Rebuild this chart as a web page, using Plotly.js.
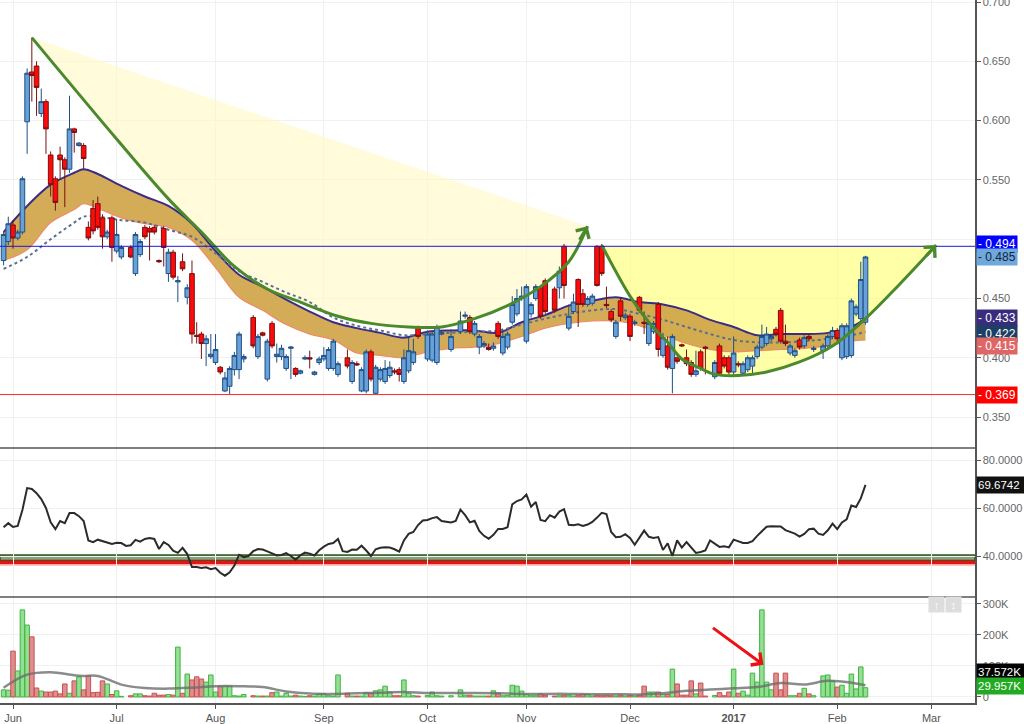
<!DOCTYPE html>
<html><head><meta charset="utf-8">
<script src="https://cdn.plot.ly/plotly-3.0.1.min.js"></script>
<style>html,body{margin:0;padding:0;background:#fff}#chart{width:1024px;height:724px}</style>
</head><body><div id="chart"></div>
<script>
// ---------- data ----------
const dates = [
'2016-05-30','2016-05-31','2016-06-01','2016-06-02','2016-06-03','2016-06-06','2016-06-07','2016-06-08','2016-06-09','2016-06-10',
'2016-06-13','2016-06-14','2016-06-15','2016-06-16','2016-06-17','2016-06-20','2016-06-21','2016-06-22','2016-06-23','2016-06-24',
'2016-06-27','2016-06-28','2016-06-29','2016-06-30','2016-07-01','2016-07-04','2016-07-05','2016-07-06','2016-07-07','2016-07-08',
'2016-07-11','2016-07-12','2016-07-13','2016-07-14','2016-07-15','2016-07-18','2016-07-19','2016-07-20','2016-07-21','2016-07-22',
'2016-07-25','2016-07-26','2016-07-27','2016-07-28','2016-07-29','2016-08-01','2016-08-02','2016-08-03','2016-08-04','2016-08-05',
'2016-08-08','2016-08-09','2016-08-10','2016-08-11','2016-08-12','2016-08-15','2016-08-16','2016-08-17','2016-08-18','2016-08-19',
'2016-08-22','2016-08-23','2016-08-24','2016-08-25','2016-08-26','2016-08-29','2016-08-30','2016-08-31','2016-09-01','2016-09-02',
'2016-09-05','2016-09-06','2016-09-07','2016-09-08','2016-09-09','2016-09-12','2016-09-13','2016-09-14','2016-09-15','2016-09-16',
'2016-09-19','2016-09-20','2016-09-21','2016-09-22','2016-09-23','2016-09-26','2016-09-27','2016-09-28','2016-09-29','2016-09-30',
'2016-10-03','2016-10-04','2016-10-05','2016-10-06','2016-10-07','2016-10-10','2016-10-11','2016-10-12','2016-10-13','2016-10-14',
'2016-10-17','2016-10-18','2016-10-19','2016-10-20','2016-10-21','2016-10-24','2016-10-25','2016-10-26','2016-10-27','2016-10-28',
'2016-10-31','2016-11-01','2016-11-02','2016-11-03','2016-11-04','2016-11-07','2016-11-08','2016-11-09','2016-11-10','2016-11-11',
'2016-11-14','2016-11-15','2016-11-16','2016-11-17','2016-11-18','2016-11-21','2016-11-22','2016-11-23','2016-11-24','2016-11-25',
'2016-11-28','2016-11-29','2016-11-30','2016-12-01','2016-12-02','2016-12-05','2016-12-06','2016-12-07','2016-12-08','2016-12-09',
'2016-12-12','2016-12-13','2016-12-14','2016-12-15','2016-12-16','2016-12-19','2016-12-20','2016-12-21','2016-12-22','2016-12-23',
'2016-12-26','2016-12-27','2016-12-28','2016-12-29','2016-12-30','2017-01-02','2017-01-03','2017-01-04','2017-01-05','2017-01-06',
'2017-01-09','2017-01-10','2017-01-11','2017-01-12','2017-01-13','2017-01-16','2017-01-17','2017-01-18','2017-01-19','2017-01-20',
'2017-01-23','2017-01-24','2017-01-25','2017-01-26','2017-01-27','2017-01-30','2017-01-31','2017-02-01','2017-02-02','2017-02-03',
'2017-02-06','2017-02-07','2017-02-08','2017-02-09'];

const open = [
.482,.498,.512,.501,.506,.599,.641,.646,.606,.616,
.571,.551,.571,.567,.559,.593,.579,.579,.510,.526,
.530,.518,.502,.518,.490,.485,null,.493,.471,.487,
.510,.509,.510,.482,.509,.471,.489,.464,.481,.451,
.471,.419,.420,.412,.401,.396,.392,.372,.376,.390,
.390,.399,null,.434,.401,.421,.382,.429,.401,.401,
.391,.408,.391,.387,.399,.400,.386,.396,.399,.391,
.391,.386,null,.400,.380,.395,.372,.372,.405,.370,
.382,.380,.385,.389,.390,.380,.389,.396,.425,null,
.399,.398,.396,.420,null,.407,null,.422,.435,.434,
.420,.409,.410,.409,.408,.429,.404,.409,.430,.437,
.450,.414,.437,.450,.459,.465,null,.458,.459,.494,
.425,.439,.466,.454,.445,.446,.494,.494,.445,.439,
.418,.448,.434,.435,.429,.451,.430,.412,.422,.445,
.402,.410,.391,.400,.411,.400,.396,.386,.405,.409,
null,.384,.410,.400,.400,.388,.395,.387,.390,.393,
.401,.409,.412,.416,.424,.440,.414,.404,.402,.415,
.410,.418,.407,null,.406,.410,.418,.423,.400,.401,
.402,.437,.433,.430];

const high = [
.506,.519,.516,.508,.553,.644,.670,.650,.627,.618,
.574,.553,.578,.569,.621,.594,.582,.581,.515,.533,
.536,.521,.508,.520,.517,.495,null,.495,.506,.500,
.512,.511,.512,.483,.511,.492,.491,.469,.488,.462,
.482,.430,.422,.419,.420,.420,.393,.388,.393,.405,
.422,.403,null,.436,.420,.422,.416,.431,.412,.411,
.403,.410,.392,.390,.402,.406,.389,.401,.409,.409,
.416,.397,null,.407,.398,.397,.392,.407,.407,.394,
.392,.398,.397,.391,.392,.407,.418,.416,.427,null,
.423,.422,.428,.423,null,.424,null,.439,.439,.436,
.431,.420,.414,.412,.413,.431,.424,.422,.452,.458,
.460,.462,.447,.462,.461,.467,null,.460,.477,.496,
.445,.454,.467,.458,.452,.454,.495,.496,.460,.441,
.432,.451,.438,.437,.432,.452,.439,.431,.431,.447,
.421,.418,.420,.401,.412,.407,.398,.406,.407,.410,
null,.398,.412,.402,.402,.418,.397,.397,.402,.402,
.411,.428,.426,.420,.426,.442,.428,.412,.408,.417,
.419,.420,.410,null,.412,.420,.426,.425,.429,.429,
.450,.445,.481,.486];

const low = [
.478,.495,.492,.499,.504,.572,.616,.604,.603,.572,
.536,.524,.551,.527,.556,.573,.578,.559,.499,.504,
.508,.492,.500,.481,.488,.483,null,.484,.469,.485,
.500,.482,.504,.480,.477,.464,.466,.447,.473,.445,
.412,.412,.399,.393,.399,.394,.386,.371,.369,.385,
.382,.396,null,.408,.399,.418,.380,.408,.396,.398,
.389,.382,.384,.386,.398,.391,.385,.394,.397,.389,
.389,.384,null,.391,.378,.393,.371,.370,.380,.369,
.380,.378,.383,.386,.380,.378,.387,.394,.416,null,
.397,.396,.394,.419,null,.405,null,.420,.433,.420,
.418,.403,.408,.406,.406,.416,.402,.407,.428,.435,
.448,.412,.434,.448,.433,.437,null,.438,.450,.450,
.423,.437,.426,.443,.443,.444,.460,.469,.442,.430,
.416,.431,.432,.414,.427,.438,.420,.410,.420,.401,
.400,.390,.370,.395,.409,.393,.384,.384,.389,.386,
null,.382,.385,.391,.386,.386,.392,.385,.388,.386,
.399,.407,.410,.414,.418,.412,.410,.402,.400,.407,
.408,.414,.405,null,.399,.408,.416,.414,.398,.399,
.400,.435,.431,.428];

const close = [
.504,.513,.501,.506,.551,.640,.638,.628,.616,.593,
.546,.531,.567,.559,.593,.590,.581,.568,.501,.507,
.510,.502,.506,.493,.504,.493,null,.485,.504,.498,
.502,.506,.506,.481,.493,.489,.468,.465,.475,.459,
.420,.418,.412,.416,.403,.407,.388,.383,.391,.402,
.420,.401,null,.410,.418,.419,.414,.410,.403,.408,
.401,.409,.386,.389,.400,.399,.388,.399,.402,.407,
.414,.395,null,.393,.396,.394,.390,.405,.382,.392,
.390,.391,.392,.388,.386,.400,.406,.405,.418,null,
.420,.420,.426,.421,null,.418,null,.431,.436,.422,
.429,.418,.412,.407,.410,.418,.418,.420,.445,.450,
.452,.460,.445,.460,.435,.439,null,.440,.473,.461,
.435,.447,.445,.445,.450,.452,.461,.471,.444,.432,
.430,.435,.436,.418,.430,.440,.429,.429,.429,.407,
.417,.392,.418,.397,.410,.395,.386,.389,.391,.408,
null,.396,.387,.393,.388,.404,.394,.395,.400,.400,
.409,.418,.420,.418,.420,.414,.412,.410,.406,.409,
.417,.416,.408,null,.410,.418,.423,.416,.427,.427,
.448,.443,.466,.485];

const volume = [
23000,22000,148000,84000,281000,232000,194000,29000,19000,16000,
16000,19000,10000,42000,12000,52000,65000,23000,68000,14000,
15000,52000,42000,8000,20000,2000,null,4000,10000,10000,
4000,3000,12000,6000,6000,8000,6000,161000,12000,74000,
55000,65000,58000,48000,71000,16000,35000,35000,35000,4000,
3000,8000,null,4000,3000,3000,3000,14000,16000,3000,
12000,3000,6000,3000,2000,4000,3000,10000,10000,4000,
3000,71000,null,12000,3000,3000,3000,14000,12000,20000,
23000,35000,16000,4000,4000,55000,12000,4000,3000,null,
5000,16000,4000,3000,null,4000,null,23000,6000,6000,
3000,3000,3000,3000,20000,12000,4000,5000,38000,35000,
19000,8000,4000,4000,10000,6000,null,3000,4000,6000,
6000,3000,6000,8000,8000,3000,6000,4000,6000,4000,
3000,6000,3000,6000,3000,6000,35000,16000,16000,16000,
8000,8000,90000,42000,6000,6000,52000,10000,45000,3000,
null,5000,14000,4000,16000,90000,12000,19000,6000,77000,
48000,281000,48000,23000,77000,23000,77000,4000,4000,12000,
28000,10000,4000,null,68000,71000,52000,32000,38000,12000,
74000,26000,97000,29957];

const rsi = [
52.0,53.7,52.1,52.5,59.2,68.3,67.9,66.2,63.7,60.0,
54.0,51.2,54.6,53.7,57.9,57.9,56.6,54.6,46.5,45.8,
46.8,46.3,45.8,45.0,45.5,45.4,44.2,44.5,46.7,46.0,
47.1,47.5,47.1,42.9,45.8,44.6,42.2,41.3,43.4,40.8,
35.4,35.4,35.0,35.3,34.5,35.0,33.0,31.8,33.2,36.0,
40.5,39.5,40.0,42.0,42.9,42.7,41.9,41.0,40.2,40.4,
41.2,40.0,38.4,40.3,41.4,41.0,40.2,42.4,43.9,45.0,
45.4,47.1,42.0,41.7,42.7,42.6,44.3,42.3,40.0,42.8,
43.4,43.6,43.5,42.8,41.8,46.5,49.2,50.0,52.9,54.8,
55.0,55.8,56.2,54.6,54.4,54.0,54.6,59.3,57.0,54.0,
54.7,50.5,48.4,47.2,48.8,51.3,51.3,52.0,61.5,62.9,
63.6,65.6,60.5,62.5,55.0,54.5,57.0,56.0,58.5,59.5,
53.0,52.8,53.2,52.5,53.1,54.2,56.0,58.0,57.5,50.0,
47.8,48.0,49.1,47.5,44.7,47.9,50.6,48.0,47.5,47.9,
42.5,45.3,40.0,46.5,43.5,45.8,43.3,41.3,41.7,42.3,
46.5,45.3,43.8,44.1,43.6,46.8,46.0,45.4,45.4,46.2,
48.4,50.2,52.2,52.4,52.2,52.3,50.8,50.0,49.3,48.1,
49.2,51.2,51.4,49.3,48.8,50.7,53.5,51.2,54.0,55.3,
61.0,60.4,64.0,69.6742];

// moving averages, sampled weekly
const maDates = ['2016-05-30','2016-06-06','2016-06-13','2016-06-20','2016-06-22','2016-06-27','2016-07-04','2016-07-11','2016-07-18','2016-07-25',
'2016-08-01','2016-08-08','2016-08-15','2016-08-22','2016-08-29','2016-09-05','2016-09-12','2016-09-19','2016-09-26','2016-10-03',
'2016-10-10','2016-10-17','2016-10-24','2016-10-31','2016-11-07','2016-11-14','2016-11-21','2016-11-28','2016-12-05','2016-12-12',
'2016-12-19','2016-12-26','2017-01-02','2017-01-09','2017-01-16','2017-01-23','2017-01-30','2017-02-06','2017-02-09'];
const bandUpper = [.506,.528,.546,.556,.559,.555,.545,.536,.528,.513,.490,.470,.460,.449,.439,.430,.425,.421,.417,.422,
.423,.423,.421,.430,.436,.444,.448,.451,.447,.445,.440,.432,.426,.419,.420,.420,.421,.426,.433];
const bandLower = [.482,.491,.514,.525,.530,.526,.518,.513,.510,.499,.476,.451,.440,.428,.420,.415,.404,.402,.400,.405,
.408,.409,.412,.418,.425,.429,.431,.431,.427,.419,.412,.407,.405,.406,.407,.408,.410,.414,.415];
const slowMA = [.475,.485,.500,.514,.519,.519,.516,.514,.508,.502,.488,.473,.464,.455,.447,.434,.427,.423,.419,.420,
.421,.422,.423,.428,.433,.437,.440,.441,.437,.432,.426,.420,.415,.413,.413,.414,.416,.419,.422];
const volMA = [30000,72000,80000,70000,68000,68000,40000,29000,27000,30000,35000,35000,32000,18000,11000,10000,12000,14000,16000,13000,
13000,13000,12000,10000,10000,10000,9000,9000,8000,12000,20000,24000,28000,32000,45000,40000,52000,46000,37572];

// cup drawings
const cup1Dates = ['2016-06-07','2016-07-01','2016-07-18','2016-07-27','2016-08-05','2016-08-16','2016-08-25','2016-09-06','2016-09-15','2016-09-27','2016-10-06','2016-10-17','2016-10-26','2016-11-04','2016-11-14','2016-11-18'];
const cup1Values = [.670,.5845,.534,.506,.477,.458,.447,.435,.429,.426,.426,.433,.444,.460,.481,.511];
const cup2Dates = ['2016-11-23','2016-12-01','2016-12-07','2016-12-13','2016-12-16','2016-12-22','2016-12-27','2017-01-03','2017-01-11','2017-01-20','2017-01-31','2017-02-09','2017-02-20','2017-03-02'];
const cup2Values = [.495,.452,.430,.413,.399,.391,.386,.385,.388,.3965,.410,.433,.461,.495];

const resistance = 0.494, support = 0.369;
const rsiZoneHigh = 40.4, rsiZoneLow = 38.1, rsiRedHigh = 38.0, rsiRedLow = 36.6;

const priceTicks = [0.35,0.40,0.45,0.50,0.55,0.60,0.65,0.70];
const priceTickText = ['0.350','0.400','0.450','','0.550','0.600','0.650','0.700'];
const monthTicks = ['2016-06-01','2016-07-01','2016-08-01','2016-09-01','2016-10-03','2016-11-01','2016-12-01','2017-01-02','2017-02-01','2017-03-01'];
const monthLabels = ['Jun','Jul','Aug','Sep','Oct','Nov','Dec','<b>2017</b>','Feb','Mar'];

// ---------- build ----------
const noon = d => d + ' 12:00';
const X = dates.map(noon);
const FONT = 'Liberation Sans, Arial, sans-serif';
const GREEN = '#4a8a2c';

const volColors = close.map((c,i) => (c!==null && c >= open[i]) ? 'rgba(120,215,120,0.8)' : 'rgba(215,115,115,0.8)');
const volLines = close.map((c,i) => (c!==null && c >= open[i]) ? '#40b440' : '#c85050');

const traces = [
  {x:[noon(cup1Dates[0]), noon(cup1Dates[cup1Dates.length-1])], y:[cup1Values[0], cup1Values[cup1Values.length-1]],
   mode:'lines', line:{width:0}, hoverinfo:'skip', xaxis:'x', yaxis:'y'},
  {x:cup1Dates.map(noon), y:cup1Values, mode:'lines', line:{width:0, shape:'spline'}, fill:'tonexty',
   fillcolor:'rgba(255,248,190,0.55)', hoverinfo:'skip', xaxis:'x', yaxis:'y'},
  {x:[noon(cup2Dates[0]), noon(cup2Dates[cup2Dates.length-1])], y:[resistance, resistance],
   mode:'lines', line:{width:0}, hoverinfo:'skip', xaxis:'x', yaxis:'y'},
  {x:cup2Dates.map(noon), y:cup2Values, mode:'lines', line:{width:0, shape:'spline'}, fill:'tonexty',
   fillcolor:'rgba(255,255,110,0.6)', hoverinfo:'skip', xaxis:'x', yaxis:'y'},
  {x:maDates.map(noon), y:bandLower, mode:'lines', line:{color:'#f08a66', width:1.2, shape:'spline'}, hoverinfo:'skip', xaxis:'x', yaxis:'y'},
  {x:maDates.map(noon), y:bandUpper, mode:'lines', line:{color:'#3b2c85', width:2, shape:'spline'}, fill:'tonexty',
   fillcolor:'rgba(207,163,70,0.9)', hoverinfo:'skip', xaxis:'x', yaxis:'y'},
  {x:maDates.map(noon), y:slowMA, mode:'lines', line:{color:'#5a7090', width:2, dash:'dot', shape:'spline'}, hoverinfo:'skip', xaxis:'x', yaxis:'y'},
  // candles and cup outlines sit on an overlaid copy of the price axis so they draw above the fills
  {type:'candlestick', x:X, open:open, high:high, low:low, close:close, xaxis:'x', yaxis:'y4',
   increasing:{line:{color:'#1f4f85', width:1}, fillcolor:'#68a0d8'},
   decreasing:{line:{color:'#7a1010', width:1}, fillcolor:'#ff0a0a'}, whiskerwidth:0, hoverinfo:'skip'},
  {x:cup1Dates.map(noon), y:cup1Values, mode:'lines', line:{color:GREEN, width:3, shape:'spline'}, hoverinfo:'skip', xaxis:'x', yaxis:'y4'},
  {x:cup2Dates.map(noon), y:cup2Values, mode:'lines', line:{color:GREEN, width:3, shape:'spline'}, hoverinfo:'skip', xaxis:'x', yaxis:'y4'},
  {x:X, y:rsi, mode:'lines', line:{color:'#2b2b2b', width:2}, hoverinfo:'skip', xaxis:'x', yaxis:'y2'},
  {type:'bar', x:X, y:volume, marker:{color:volColors, line:{color:volLines, width:1}}, hoverinfo:'skip', xaxis:'x', yaxis:'y3'},
  {x:maDates.map(noon), y:volMA, mode:'lines', line:{color:'rgba(110,110,110,0.8)', width:2.5, shape:'spline'}, hoverinfo:'skip', xaxis:'x', yaxis:'y3'}
];

const axisCommon = {side:'right', showline:true, linecolor:'#555', linewidth:1.5, ticks:'outside', ticklen:4, tickcolor:'#555',
  showgrid:true, gridcolor:'#f1f1f1', zeroline:false, tickfont:{size:11, color:'#666', family:FONT}, fixedrange:true,
  ticklabeloverflow:'allow'};

function tag(yref, y, text, bg, fc, yshift, w, fs){
  return {xref:'paper', x:1, xanchor:'left', xshift:1, yref:yref, y:y, yanchor:'middle', text:text, showarrow:false,
    bgcolor:bg, font:{color:fc, size:fs||12, family:FONT}, borderpad:1, yshift:yshift||0, width:w||38, height:14, align:'left'};
}
const lastIdx = close.length - 1;
const annotations = [
  tag('y', resistance, '- ' + resistance.toFixed(3), '#0000ff', '#ffffff', 2),
  tag('y', close[lastIdx], '- ' + close[lastIdx].toFixed(3), '#6fa8dc', '#14243c', 0),
  tag('y', bandUpper[bandUpper.length-1], '- ' + bandUpper[bandUpper.length-1].toFixed(3), '#3a2c7c', '#ffffff', 1),
  tag('y', slowMA[slowMA.length-1], '- ' + slowMA[slowMA.length-1].toFixed(3), '#1c3f63', '#ffffff', -2),
  tag('y', bandLower[bandLower.length-1], '- ' + bandLower[bandLower.length-1].toFixed(3), '#e06666', '#ffffff', -6),
  tag('y', support, '- ' + support.toFixed(3), '#ff0000', '#ffffff', 0),
  tag('y2', rsi[lastIdx], rsi[lastIdx].toFixed(4), '#111111', '#ffffff', 0, 46, 11.5),
  tag('y3', volMA[volMA.length-1], (volMA[volMA.length-1]/1000).toFixed(3) + 'K', '#000000', '#ffffff', 13, 46, 11.5),
  tag('y3', volume[lastIdx], (volume[lastIdx]/1000).toFixed(3) + 'K', '#22aa22', '#ffffff', 2, 46, 11.5),
  {x:noon(cup1Dates[cup1Dates.length-1]), y:cup1Values[cup1Values.length-1], xref:'x', yref:'y', showarrow:true, text:'',
   ax:-9, ay:15, arrowhead:4, arrowsize:1, arrowwidth:3, arrowcolor:GREEN, standoff:0},
  {x:noon(cup2Dates[cup2Dates.length-1]), y:cup2Values[cup2Values.length-1], xref:'x', yref:'y', showarrow:true, text:'',
   ax:-11, ay:12, arrowhead:4, arrowsize:1, arrowwidth:3, arrowcolor:GREEN, standoff:0},
  {x:'2017-01-10 20:00', y:104000, xref:'x', yref:'y3', showarrow:true, text:'', ax:-52, ay:-38,
   arrowhead:4, arrowsize:1, arrowwidth:3, arrowcolor:'#ee1111', standoff:0},
  {xref:'paper', yref:'paper', x:0.969, y:0.128, text:'↑', showarrow:false, bgcolor:'#dddddd', font:{color:'#ffffff', size:11}, width:13, height:13},
  {xref:'paper', yref:'paper', x:0.987, y:0.128, text:'↕', showarrow:false, bgcolor:'#dddddd', font:{color:'#ffffff', size:11}, width:13, height:13}
];

const shapes = [
  {type:'line', xref:'paper', x0:0, x1:1, yref:'y', y0:resistance, y1:resistance, line:{color:'#1a1ad8', width:1}},
  {type:'line', xref:'paper', x0:0, x1:1, yref:'y', y0:support, y1:support, line:{color:'#ff2a2a', width:1}},
  {type:'rect', xref:'paper', x0:0, x1:1, yref:'y2', y0:rsiZoneLow, y1:rsiZoneHigh, fillcolor:'#8e9f7e', line:{color:'#2d5a1e', width:1.5}, layer:'below'},
  {type:'rect', xref:'paper', x0:0, x1:1, yref:'y2', y0:rsiRedLow, y1:rsiRedHigh, fillcolor:'#e81212', line:{width:0}, layer:'below'},
  {type:'rect', xref:'paper', x0:0, x1:1, yref:'y2', y0:rsiRedLow-0.8, y1:rsiRedLow, fillcolor:'rgba(255,120,120,0.45)', line:{width:0}, layer:'below'},
  {type:'line', xref:'paper', x0:0, x1:1, yref:'paper', y0:0.3627, y1:0.3627, line:{color:'#555', width:1.5}},
  {type:'line', xref:'paper', x0:0, x1:1, yref:'paper', y0:0.1508, y1:0.1508, line:{color:'#555', width:1.5}}
];

const priceRange = [0.3239, 0.7017];
const layout = {
  width:1024, height:724, margin:{l:0, r:49, t:0, b:21}, paper_bgcolor:'#fff', plot_bgcolor:'#fff',
  showlegend:false, font:{family:FONT, size:11, color:'#555'}, boxgap:0.02, boxgroupgap:0, bargap:0.04, hovermode:false,
  xaxis:{type:'date', range:['2016-05-27 17:45','2017-03-14 18:00'], rangebreaks:[{bounds:['sat','mon']}],
    rangeslider:{visible:false}, anchor:'y3', showgrid:true, gridcolor:'#f1f1f1', tickmode:'array',
    tickvals:monthTicks.map(noon), ticktext:monthLabels, tickfont:{size:11, color:'#555', family:FONT},
    showline:true, linecolor:'#555', linewidth:1.5, ticks:'outside', ticklen:4, tickcolor:'#555', zeroline:false, fixedrange:true},
  yaxis:Object.assign({}, axisCommon, {domain:[0.3627,1], range:priceRange, tickmode:'array',
    tickvals:priceTicks, ticktext:priceTickText, anchor:'x'}),
  yaxis4:{overlaying:'y', side:'right', range:priceRange, visible:false, showgrid:false, zeroline:false, fixedrange:true, anchor:'x'},
  yaxis2:Object.assign({}, axisCommon, {domain:[0.1508,0.3627], range:[22.92,85], tickmode:'array',
    tickvals:[40,60,80], tickformat:'.4f', anchor:'x'}),
  yaxis3:Object.assign({}, axisCommon, {domain:[0,0.1508], range:[-19400,322600], tickmode:'array',
    tickvals:[0,100000,200000,300000], ticktext:['0','100K','200K','300K'], anchor:'x'}),
  annotations:annotations, shapes:shapes
};

Plotly.newPlot('chart', traces, layout, {staticPlot:true, displayModeBar:false});
</script></body></html>
